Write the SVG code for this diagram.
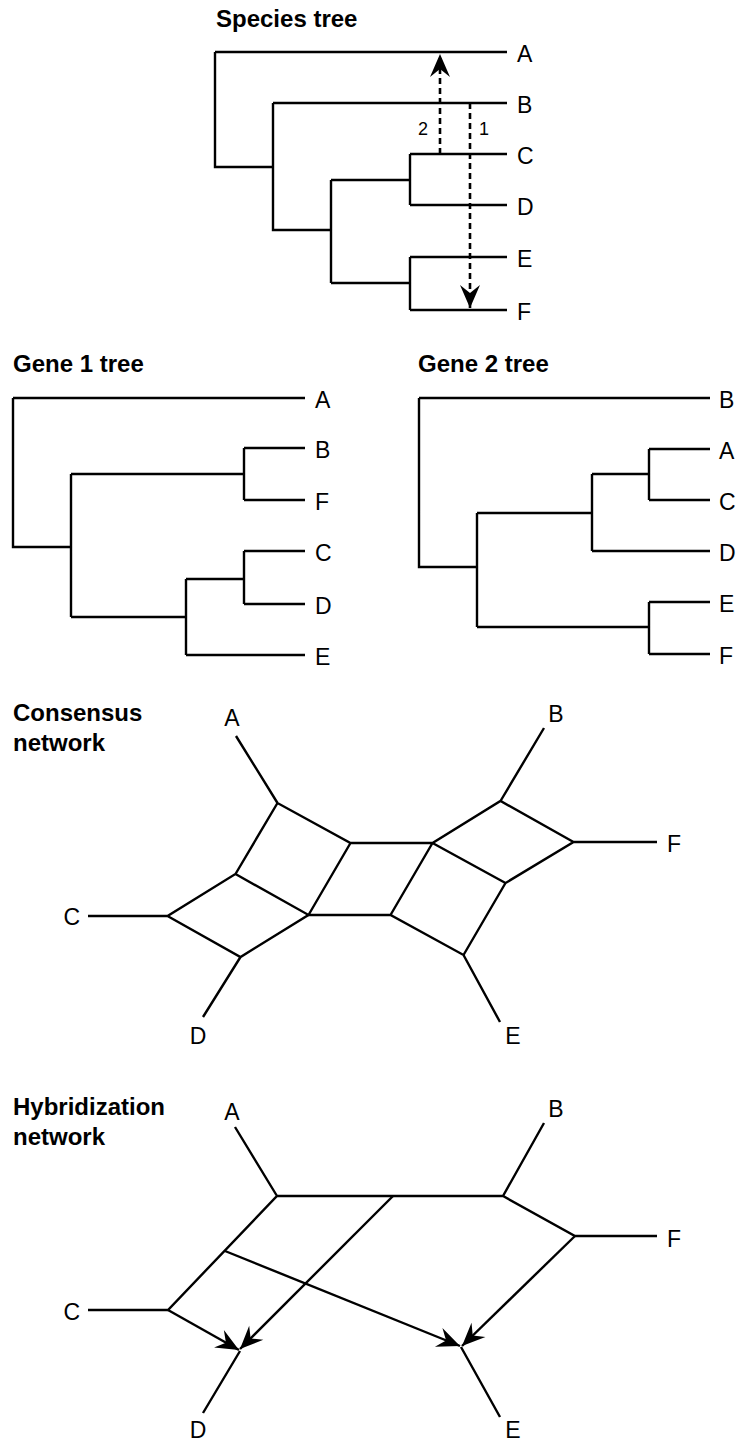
<svg xmlns="http://www.w3.org/2000/svg" width="738" height="1442" viewBox="0 0 738 1442">
<style>
.ln{fill:none;stroke:#000;stroke-width:2.4;stroke-linecap:butt;stroke-linejoin:miter}
.dash{fill:none;stroke:#000;stroke-width:2.6;stroke-dasharray:6,4}
.lbl{font-family:"Liberation Sans",Arial,sans-serif;font-size:23px;fill:#000}
.num{font-family:"Liberation Sans",Arial,sans-serif;font-size:18px;fill:#000}
.ttl{font-family:"Liberation Sans",Arial,sans-serif;font-size:24px;font-weight:bold;fill:#000}
</style>
<defs>
<marker id="ah" viewBox="-24 -11 25 22" refX="0" refY="0" markerWidth="25" markerHeight="22" markerUnits="userSpaceOnUse" orient="auto">
<path d="M0,0 L-23,-10 L-15,0 L-23,10 Z" fill="#000"/>
</marker>
</defs>

<g id="species-tree">
<text class="ttl" x="216" y="27">Species tree</text>
<path class="ln" d="M215,52 H507 M215,52 V167 H273 M273,103 H507 M273,103 V230 H331 M331,180 V283 M331,180 H410 M410,154 V205 M410,154 H507 M410,205 H507 M331,283 H410 M410,257 V310 M410,257 H507 M410,310 H507"/>
<text class="lbl" x="517" y="62">A</text>
<text class="lbl" x="517" y="113">B</text>
<text class="lbl" x="517" y="164">C</text>
<text class="lbl" x="517" y="215">D</text>
<text class="lbl" x="517" y="267">E</text>
<text class="lbl" x="517" y="320">F</text>
</g>

<g id="connectors">
<path class="dash" d="M440,154 V54" marker-end="url(#ah)"/>
<path class="dash" d="M470,103 V308" marker-end="url(#ah)"/>
<text class="num" x="423" y="135" text-anchor="middle">2</text>
<text class="num" x="484" y="135" text-anchor="middle">1</text>
</g>

<g id="gene1-tree">
<text class="ttl" x="13" y="372">Gene 1 tree</text>
<path class="ln" d="M13,398 H305 M13,398 V547 H71 M71,474 V617 M71,474 H244 M244,448 V500 M244,448 H305 M244,500 H305 M71,617 H186 M186,579 V655 M186,579 H244 M244,551 V604 M244,551 H305 M244,604 H305 M186,655 H305"/>
<text class="lbl" x="315" y="408">A</text>
<text class="lbl" x="315" y="458">B</text>
<text class="lbl" x="315" y="510">F</text>
<text class="lbl" x="315" y="561">C</text>
<text class="lbl" x="315" y="614">D</text>
<text class="lbl" x="315" y="665">E</text>
</g>

<g id="gene2-tree">
<text class="ttl" x="418" y="372">Gene 2 tree</text>
<path class="ln" d="M419,398 H710 M419,398 V567 H477 M477,513 V627 M477,513 H592 M592,474 V551 M592,474 H649 M649,449 V500 M649,449 H710 M649,500 H710 M592,551 H710 M477,627 H649 M649,602 V654 M649,602 H710 M649,654 H710"/>
<text class="lbl" x="719" y="408">B</text>
<text class="lbl" x="719" y="459">A</text>
<text class="lbl" x="719" y="510">C</text>
<text class="lbl" x="719" y="561">D</text>
<text class="lbl" x="719" y="612">E</text>
<text class="lbl" x="719" y="664">F</text>
</g>

<g id="consensus-network">
<text class="ttl" x="13" y="721">Consensus</text>
<text class="ttl" x="13" y="751">network</text>
<path class="ln" d="M88,916 H167.5 L235.5,874 L277.5,803 L350.5,843 L432.5,843 L500.5,801 L573.5,842 L505.5,883 L463.5,955 L390.5,915 L308.5,915 L240.5,957 L167.5,916 M235.5,874 L308.5,915 L350.5,843 M432.5,843 L390.5,915 M432.5,843 L505.5,883 M573.5,842 H657 M277.5,803 L236,736 M500.5,801 L544,728 M240.5,957 L203,1017 M463.5,955 L500,1022"/>
<text class="lbl" x="232" y="726" text-anchor="middle">A</text>
<text class="lbl" x="556" y="722" text-anchor="middle">B</text>
<text class="lbl" x="80" y="925" text-anchor="end">C</text>
<text class="lbl" x="667" y="852">F</text>
<text class="lbl" x="198" y="1044" text-anchor="middle">D</text>
<text class="lbl" x="513" y="1044" text-anchor="middle">E</text>
</g>

<g id="hybridization-network">
<text class="ttl" x="13" y="1115">Hybridization</text>
<text class="ttl" x="13" y="1145">network</text>
<path class="ln" d="M88,1310 H168 L277,1196 H503 L575,1236 H657 M277,1196 L235,1127 M503,1196 L544,1123 M240,1351 L203,1413 M461,1347 L500,1417"/>
<path class="ln" d="M168,1310 L239,1350" marker-end="url(#ah)"/>
<path class="ln" d="M393,1196 L240,1349" marker-end="url(#ah)"/>
<path class="ln" d="M225,1251 L460,1346" marker-end="url(#ah)"/>
<path class="ln" d="M575,1236 L462,1346" marker-end="url(#ah)"/>
<text class="lbl" x="232" y="1120" text-anchor="middle">A</text>
<text class="lbl" x="556" y="1117" text-anchor="middle">B</text>
<text class="lbl" x="80" y="1320" text-anchor="end">C</text>
<text class="lbl" x="667" y="1247">F</text>
<text class="lbl" x="198" y="1438" text-anchor="middle">D</text>
<text class="lbl" x="513" y="1438" text-anchor="middle">E</text>
</g>
</svg>
